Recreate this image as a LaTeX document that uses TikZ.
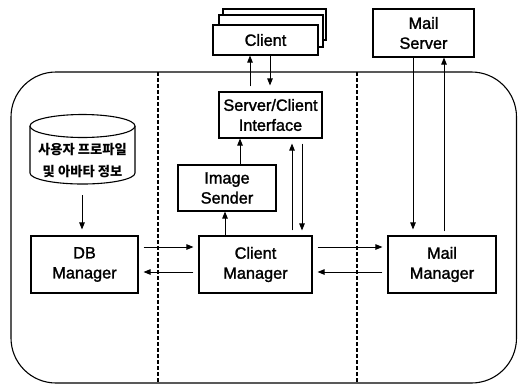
\documentclass[tikz,border=0pt]{standalone}
\usepackage{fontspec}
\setmainfont{Liberation Sans}[BoldFont=Liberation Sans,BoldFeatures={FakeBold=1.5}]
\newfontfamily\krfont{Noto Sans CJK KR}
\usetikzlibrary{arrows.meta}
\begin{document}
\begin{tikzpicture}[x=1pt,y=-1pt,
  boxstyle/.style={draw,line width=1.1pt,fill=white,inner sep=0pt,align=center,
    font=\bfseries\fontsize{16.3}{20}\selectfont},
  arr/.style={line width=0.9pt,-{Triangle[length=7pt,width=5.5pt]}},
  sep/.style={line width=1.1pt,dash pattern=on 4pt off 2pt},
  frame/.style={line width=1.1pt,rounded corners=45pt}]
\useasboundingbox (0,0) rectangle (518,386);
% outer frame
\draw[frame] (11,72) rectangle (516.5,383);
\draw[sep] (158,72) -- (158,383);
\draw[sep] (357,72) -- (357,383);
% client stack
\node[boxstyle,minimum width=103pt,minimum height=31pt] (c3) at (274.5,24.5) {};
\node[boxstyle,minimum width=104pt,minimum height=32pt] (c2) at (271,31) {};
\node[boxstyle,minimum width=105pt,minimum height=30pt] (client) at (265.5,40) {Client};
% mail server
\node[boxstyle,minimum width=101pt,minimum height=48pt] (ms) at (423.5,33) {Mail\\Server};
% server/client interface
\node[boxstyle,minimum width=103pt,minimum height=46pt] (sci) at (270.5,115) {Server/Client\\Interface};
% image sender
\node[boxstyle,minimum width=98pt,minimum height=46pt] (is) at (227,188) {Image\\Sender};
% managers
\node[boxstyle,minimum width=107pt,minimum height=57pt] (dbm) at (84.5,264.5) {DB\\Manager};
\node[boxstyle,minimum width=113pt,minimum height=57pt] (cm) at (255.5,264.5) {Client\\Manager};
\node[boxstyle,minimum width=108pt,minimum height=57pt] (mm) at (442,264.5) {Mail\\Manager};
% database cylinder
\draw[line width=1.1pt,fill=white] (30,126) -- (30,173) arc[start angle=180,end angle=360,x radius=52.5pt,y radius=11pt] -- (135,126);
\draw[line width=1.1pt,fill=white] (82.5,126) ellipse[x radius=52.5pt,y radius=11.5pt];
\node[inner sep=0pt,align=center,font=\krfont\bfseries\fontsize{13.3}{22}\selectfont] (db) at (82.5,161) {사용자 프로파일\\및 아바타 정보};
\coordinate (dbbot) at (82,195);
% connectors
\draw[arr] (dbbot) -- ([yshift=6pt]dbbot |- dbm.north);
\draw[arr] ([xshift=-15.5pt,yshift=5pt]client.south |- sci.north) -- ([xshift=-15.5pt]client.south);
\draw[arr] ([xshift=4.5pt]client.south) -- ([xshift=4.5pt,yshift=6pt]client.south |- sci.north);
\draw[arr] (is.north -| 240,0) -- (sci.south -| 240,0);
\draw[arr] (cm.north -| 225,0) -- (is.south -| 225,0);
\draw[arr,shorten <=5pt,shorten >=5pt] (cm.north -| 292,0) -- (sci.south -| 292,0);
\draw[arr,shorten <=5pt,shorten >=5pt] (sci.south -| 302,0) -- (cm.north -| 302,0);
\draw[arr,shorten <=5pt,shorten >=5pt] (dbm.east |- 0,247) -- (cm.west |- 0,247);
\draw[arr,shorten <=5pt,shorten >=5pt] (cm.west |- 0,272) -- (dbm.east |- 0,272);
\draw[arr,shorten <=5pt,shorten >=5pt] (cm.east |- 0,247) -- (mm.west |- 0,247);
\draw[arr,shorten <=5pt,shorten >=5pt] (mm.west |- 0,272) -- (cm.east |- 0,272);
\draw[arr,shorten >=6pt] (ms.south -| 413,0) -- (mm.north -| 413,0);
\draw[arr,shorten <=4pt] (mm.north -| 444,0) -- (ms.south -| 444,0);
\end{tikzpicture}
\end{document}
